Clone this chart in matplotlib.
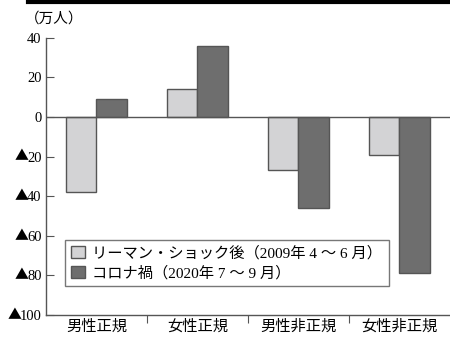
import numpy as np
import matplotlib.pyplot as plt
from matplotlib.lines import Line2D

plt.rcParams['font.family'] = ['Liberation Serif', 'Noto Sans CJK JP', 'DejaVu Sans']

# data (万人)
categories = ["男性正規", "女性正規", "男性非正規", "女性非正規"]
lehman = [-38, 14, -27, -19]
corona = [9, 36, -46, -79]
series_names = ["リーマン・ショック後（2009年 4 ～ 6 月）", "コロナ禍（2020年 7 ～ 9 月）"]
yticks = [40, 20, 0, -20, -40, -60, -80, -100]

fig = plt.figure(figsize=(4.5, 3.38), dpi=100)
ax = fig.add_axes([0.102, 0.068, 0.898, 0.82])

x = np.arange(len(categories))
w = 0.3
ax.bar(x - w / 2, lehman, w, color="#d3d3d5", edgecolor="#555555", linewidth=1.0,
       label=series_names[0], zorder=2)
ax.bar(x + w / 2, corona, w, color="#6e6e6e", edgecolor="#555555", linewidth=1.0,
       label=series_names[1], zorder=2)

ax.axhline(0, color="#555555", linewidth=1.0, zorder=3)

ax.set_xlim(-0.5, 3.5)
ax.set_ylim(-100, 40)

# y axis: digits as tick labels, black triangle (▲ = minus) drawn in CJK font
tick_fs = 10.5
ax.set_yticks(yticks)
ax.set_yticklabels([str(abs(v)) for v in yticks], fontsize=tick_fs)
ax.tick_params(axis="y", direction="in", length=6, color="#555555", pad=3)
for v in yticks:
    if v < 0:
        nd = len(str(abs(v)))
        ax.annotate("▲", xy=(0, v), xycoords=("axes fraction", "data"),
                    xytext=(-3 - nd * tick_fs * 0.5 + 1, 0), textcoords="offset points",
                    ha="right", va="center", fontsize=10,
                    family=["Noto Sans CJK JP"], annotation_clip=False)

# x axis: boundary ticks, labels centred
ax.set_xticks([0.5, 1.5, 2.5])
ax.set_xticklabels([])
ax.tick_params(axis="x", which="major", direction="out", length=6, color="#555555")
ax.set_xticks(x, minor=True)
ax.set_xticklabels(categories, minor=True, fontsize=11)
ax.tick_params(axis="x", which="minor", length=0, pad=3)

ax.spines["top"].set_visible(False)
ax.spines["right"].set_visible(False)
for s in ["left", "bottom"]:
    ax.spines[s].set_color("#555555")
    ax.spines[s].set_linewidth(1.0)

leg = ax.legend(loc="upper left", bbox_to_anchor=(0.047, 0.272), fontsize=11,
                frameon=True, fancybox=False, edgecolor="#555555",
                handlelength=0.9, handleheight=0.9, handletextpad=0.5,
                borderpad=0.4, labelspacing=0.35, borderaxespad=0)
leg.get_frame().set_linewidth(1.0)

fig.text(0.055, 0.945, "（万人）", fontsize=10.5, ha="left", va="center")

# thick rule at the top
fig.add_artist(Line2D([0.062, 1.0], [0.993, 0.993], color="black", linewidth=3,
                      transform=fig.transFigure))

fig.savefig("out.png", dpi=100)
